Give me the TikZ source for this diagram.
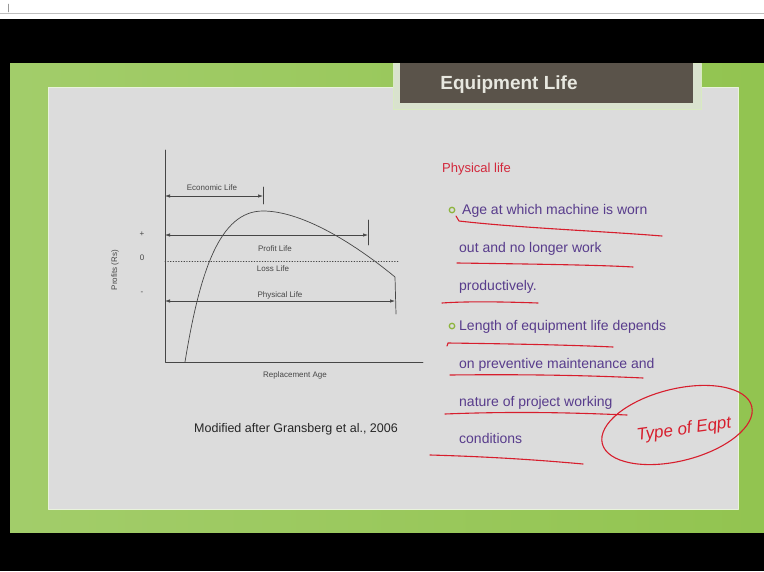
\documentclass[tikz,border=0pt]{standalone}
\usepackage{fontspec}
\setmainfont{Liberation Sans}
\usetikzlibrary{arrows.meta,positioning}
\definecolor{slidegreen}{RGB}{146,196,80}
\definecolor{panelgray}{RGB}{220,220,220}
\definecolor{titlebrown}{RGB}{90,83,74}
\definecolor{titletext}{RGB}{232,232,224}
\definecolor{chartgray}{RGB}{70,70,70}
\definecolor{headred}{RGB}{210,40,60}
\definecolor{bodypurple}{RGB}{88,60,140}
\definecolor{inkred}{RGB}{215,30,45}
\definecolor{bulletgreen}{RGB}{140,180,60}
\tikzset{
  every picture/.style={line join=round, line cap=round, >=Latex},
  chartline/.style={draw=chartgray, line width=0.7pt},
  chartarrow/.style={chartline, {Latex[length=5pt,width=3.5pt]}-{Latex[length=5pt,width=3.5pt]}},
  charttext/.style={font=\fontsize{8}{9}\selectfont, text=chartgray, inner sep=0pt},
  bodytext/.style={font=\fontsize{14}{16}\selectfont, text=bodypurple, anchor=base west, inner sep=0pt},
  ink/.style={draw=inkred, line width=1.1pt},
  bulletmark/.style={circle, draw=bulletgreen, line width=1.3pt, inner sep=0pt, minimum size=5.5pt},
}
\begin{document}
\begin{tikzpicture}[x=1pt,y=-1pt]
% screen and slide
\fill[white](0,0)rectangle(764,571);
\useasboundingbox(0,0)rectangle(764,571);
\draw[gray!50](0,13)--(764,13);
\draw[gray!80](8,4)--(8,12);
\fill[black](0,19)rectangle(764,571);
\shade[left color=slidegreen!85!white, right color=slidegreen](10,63)rectangle(764,532);
\fill[panelgray, draw=white!80!slidegreen](48,87)rectangle(738,509);
% title
\fill[white!80!slidegreen!85!gray, draw=white!65!slidegreen](393,63)rectangle(701,109);
\fill[titlebrown](400,63)rectangle(693,103);
\node[font=\fontsize{19}{22}\selectfont\bfseries, text=titletext] (title) at (509,85) {Equipment Life};
% chart
\coordinate (ytop) at (165,150);
\coordinate (orig) at (165,362);
\coordinate (xend) at (423,362);
\draw[chartline](ytop)--(orig)--(xend);
\draw[chartline](185,362)..controls(200,270)and(220,211)..(263,211)
  ..controls(300,211)and(350,240)..(395,277)--(396,314);
\coordinate (zeroL) at (165,261);
\coordinate (zeroR) at (398,261);
\draw[chartline,dotted](zeroL)--(zeroR);
\coordinate (econL) at (165,196);
\coordinate (econR) at (263,196);
\coordinate (profL) at (165,235);
\coordinate (profR) at (368,235);
\coordinate (physL) at (165,301);
\coordinate (physR) at (395,301);
\draw[chartarrow](econL)--(econR);
\draw[chartarrow](profL)--(profR);
\draw[chartarrow](physL)--(physR);
\draw[chartline](263,187)--(263,204);
\draw[chartline](368,220)--(368,245);
\node[charttext] (econ) at (212,188) {Economic Life};
\node[charttext] (prof) at (275,249) {Profit Life};
\node[charttext] (loss) at (273,269) {Loss Life};
\node[charttext] (phys) at (280,295) {Physical Life};
\node[charttext] (plus) at (142,234) {+};
\node[charttext] (zero) at (142,258) {0};
\node[charttext] (minus) at (142,293) {-};
\node[charttext, rotate=90] (yname) at (115,270) {Profits (Rs)};
\node[charttext] (xname) at (295,375) {Replacement Age};
\node[font=\fontsize{12.5}{15}\selectfont, text=black!85, anchor=base west, inner sep=0pt] (source) at (194,432) {Modified after Gransberg et al., 2006};
% text on the right
\node[font=\fontsize{13}{16}\selectfont, text=headred, anchor=base west, inner sep=0pt] (head) at (442,172) {Physical life};
\node[bulletmark] (b1) at (452,210) {};
\node[bulletmark] (b2) at (452,326) {};
\node[bodytext] (l1) at (462,214) {Age at which machine is worn};
\node[bodytext] (l2) at (459,252) {out and no longer work};
\node[bodytext] (l3) at (459,290) {productively.};
\node[bodytext] (l4) at (459,330) {Length of equipment life depends};
\node[bodytext] (l5) at (459,368) {on preventive maintenance and};
\node[bodytext] (l6) at (459,406) {nature of project working};
\node[bodytext] (l7) at (459,443) {conditions};
% pen marks
\draw[ink](456,216)--(459,221)..controls(520,228)and(600,231)..(662,236);
\draw[ink](457,263)..controls(530,264)and(600,265)..(633,267);
\draw[ink](442,303)..controls(470,301)and(510,302)..(538,303);
\draw[ink](447,346)--(448,343)..controls(520,344)and(570,345)..(613,347);
\draw[ink](450,375)..controls(540,374)and(600,376)..(643,378);
\draw[ink](445,414)..controls(520,411)and(580,413)..(627,415);
\draw[ink](430,455)..controls(500,457)and(550,461)..(583,464);
\draw[ink,rotate around={14:(677,425)}](677,425)ellipse[x radius=77,y radius=36];
\node[text=inkred, rotate=8, font=\fontsize{17}{20}\selectfont\itshape] (eqpt) at (684,430) {Type of Eqpt};
\end{tikzpicture}
\end{document}
